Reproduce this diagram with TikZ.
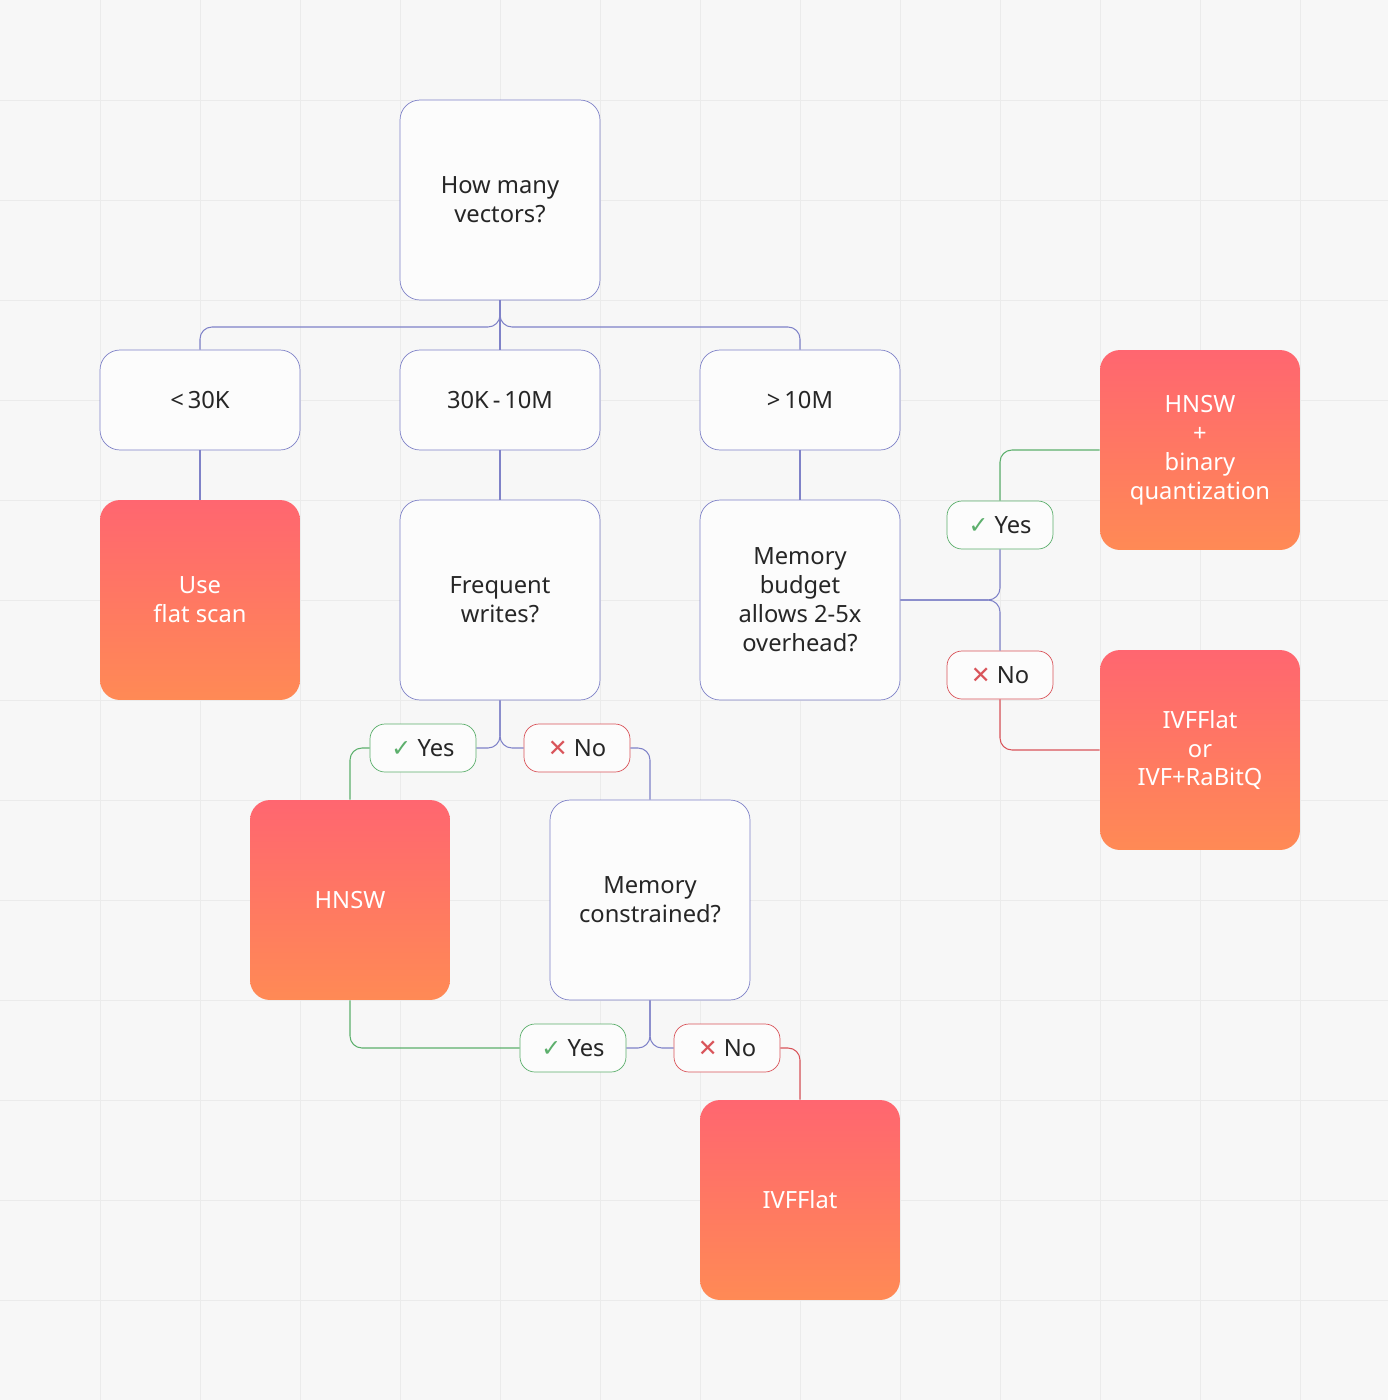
\documentclass[tikz,border=0pt]{standalone}
\usepackage{fontspec}
\setmainfont{Noto Sans}
\newfontfamily\symfont{DejaVu Sans}
\usepackage{tikz}
\usetikzlibrary{positioning}

\definecolor{bgcol}{HTML}{F7F7F7}
\definecolor{gridcol}{HTML}{EBEBEB}
\definecolor{linecol}{HTML}{7F82C8}
\definecolor{yescol}{HTML}{5CAF6C}
\definecolor{nocol}{HTML}{D9545A}
\definecolor{warmA}{HTML}{FF8A55}
\definecolor{warmB}{HTML}{FF6670}
\definecolor{txtcol}{HTML}{262626}

\tikzset{
    qbox/.style={draw=linecol, fill=white!60!bgcol, rounded corners=0.4cm, minimum width=4cm, minimum height=4cm,
        align=center, text=txtcol, font=\fontsize{13.5}{16.5}\selectfont},
    rangebox/.style={qbox, minimum height=2cm},
    resbox/.style={rounded corners=0.4cm, minimum width=4cm, minimum height=4cm, align=center, text=white,
        font=\fontsize{13.5}{16.5}\selectfont, shading=axis, shading angle=45, top color=warmB, bottom color=warmA},
    tagbox/.style={fill=white!60!bgcol, rounded corners=0.3cm, minimum width=2.12cm, minimum height=0.96cm,
        text=txtcol, font=\fontsize{13.5}{16.5}\selectfont},
    yesbox/.style={tagbox, draw=yescol},
    nobox/.style={tagbox, draw=nocol},
    link/.style={draw=linecol, rounded corners=0.24cm, line width=0.6pt},
}

\begin{document}
\begin{tikzpicture}[x=0.02cm, y=-0.02cm]
    % background and grid
    \fill[bgcol] (0,0) rectangle (1388,1400);
    \useasboundingbox (0,0) rectangle (1388,1400);
    \foreach \g in {100,200,...,1300}{
        \draw[gridcol] (\g,0) -- (\g,1400);
        \draw[gridcol] (0,\g) -- (1388,\g);
    }

    % questions and ranges
    \node[qbox] (count) at (500,200) {How many\\vectors?};
    \node[rangebox] (small) at (200,400) {<\,30K};
    \node[rangebox] (mid) at (500,400) {30K\,-\,10M};
    \node[rangebox] (large) at (800,400) {>\,10M};
    \node[qbox] (writes) at (500,600) {Frequent\\writes?};
    \node[qbox] (budget) at (800,600) {Memory\\budget\\allows 2-5x\\overhead?};
    \node[qbox] (constr) at (650,900) {Memory\\constrained?};

    % results
    \node[resbox] (flat) at (200,600) {Use\\flat scan};
    \node[resbox] (hnswbq) at (1200,450) {HNSW\\+\\binary\\quantization};
    \node[resbox] (ivfrq) at (1200,750) {IVFFlat\\or\\IVF+RaBitQ};
    \node[resbox] (hnsw) at (350,900) {HNSW};
    \node[resbox] (ivfflat) at (800,1200) {IVFFlat};

    % yes / no tags
    \newcommand{\yestag}{{\symfont\color{yescol}✓}\ Yes}
    \newcommand{\notag}{{\symfont\color{nocol}✕}\ No}
    \node[yesbox] (byes) at (1000,525) {\yestag};
    \node[nobox] (bno) at (1000,675) {\notag};
    \node[yesbox] (wyes) at (423,748) {\yestag};
    \node[nobox] (wno) at (577,748) {\notag};
    \node[yesbox] (cyes) at (573,1048) {\yestag};
    \node[nobox] (cno) at (727,1048) {\notag};

    % connectors
    \path[link] (count.south) |- (350,327) -| (small.north);
    \path[link] (count.south) |- (650,327) -| (large.north);
    \path[link] (count.south) -- (mid.north);
    \path[link] (small.south) -- (flat.north);
    \path[link] (mid.south) -- (writes.north);
    \path[link] (large.south) -- (budget.north);

    \path[link] (writes.south) |- (wyes.east);
    \path[link] (writes.south) |- (wno.west);
    \path[link, draw=yescol] (wyes.west) -| (hnsw.north);
    \path[link, draw=linecol] (wno.east) -| (constr.north);

    \path[link] (constr.south) |- (cyes.east);
    \path[link] (constr.south) |- (cno.west);
    \path[link, draw=yescol] (cyes.west) -| (hnsw.south);
    \path[link, draw=nocol] (cno.east) -| (ivfflat.north);

    \path[link] (budget.east) -| (byes.south);
    \path[link] (budget.east) -| (bno.north);
    \path[link, draw=yescol] (byes.north) |- (hnswbq.west);
    \path[link, draw=nocol] (bno.south) |- (ivfrq.west);
\end{tikzpicture}
\end{document}
